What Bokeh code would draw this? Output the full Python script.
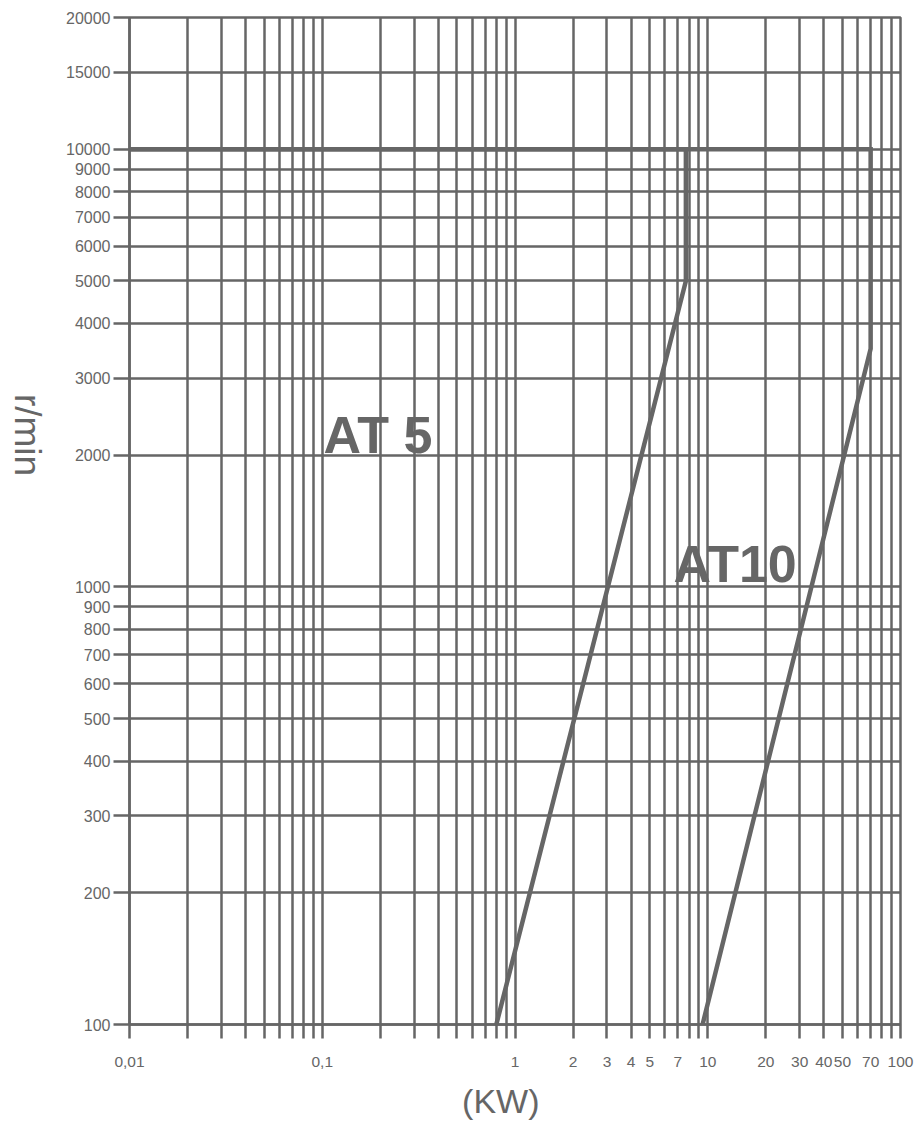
from bokeh.plotting import figure
from bokeh.models import Range1d, FixedTicker, Label
from bokeh.layouts import row
from bokeh.core.properties import value
from bokeh.embed import file_html
from bokeh.resources import INLINE
import math

# ---- data ----
x_ticks = [0.01, 0.02, 0.03, 0.04, 0.05, 0.06, 0.07, 0.08, 0.09,
           0.1, 0.2, 0.3, 0.4, 0.5, 0.6, 0.7, 0.8, 0.9,
           1, 2, 3, 4, 5, 6, 7, 8, 9,
           10, 20, 30, 40, 50, 60, 70, 80, 90, 100]
x_tick_labels = {0.01: "0,01", 0.1: "0,1", 1: "1", 2: "2", 3: "3", 4: "4", 5: "5", 7: "7",
                 10: "10", 20: "20", 30: "30", 40: "40", 50: "50", 70: "70", 100: "100"}
y_ticks = [100, 200, 300, 400, 500, 600, 700, 800, 900,
           1000, 2000, 3000, 4000, 5000, 6000, 7000, 8000, 9000,
           10000, 15000, 20000]

at5_kw = [0.8, 7.7, 7.7, 0.01]
at5_rpm = [100, 5000, 10000, 10000]
at10_kw = [9.4, 70, 70, 0.01]
at10_rpm = [100, 3500, 10000, 10000]

C = "#666666"
FONT = "Liberation Sans"
NB = "\u00a0"
LEFT_W = 60

# narrow strip carrying the vertical y-axis title
left = figure(width=LEFT_W, height=1124, x_range=Range1d(0, LEFT_W), y_range=Range1d(0, 1124),
              output_backend="svg", toolbar_location=None, min_border=0,
              x_axis_location=None, y_axis_location=None, title=None)
left.outline_line_color = None
left.grid.visible = False
left.background_fill_color = "white"
left.border_fill_color = "white"
left.text(x=[27], y=[658], text=["r/min"], angle=-math.pi / 2, text_align="center",
          text_baseline="alphabetic", text_font=value(FONT), text_font_size="37px", text_color=C)

p = figure(width=917 - LEFT_W, height=1124, x_axis_type="log", y_axis_type="log",
           x_range=Range1d(0.01, 100), y_range=Range1d(100, 20000),
           output_backend="svg", toolbar_location=None, title=None,
           min_border_left=129 - LEFT_W, min_border_right=17, min_border_top=17, min_border_bottom=100)

p.background_fill_color = "white"
p.border_fill_color = "white"
p.outline_line_color = C
p.outline_line_width = 2.5
p.outline_line_alpha = 1.0

p.xaxis.ticker = FixedTicker(ticks=x_ticks)
p.yaxis.ticker = FixedTicker(ticks=y_ticks)
p.xaxis.major_label_overrides = {t: x_tick_labels.get(t, "") for t in x_ticks}
p.yaxis.major_label_overrides = {t: str(t) for t in y_ticks}

for ax in (p.xaxis[0], p.yaxis[0]):
    ax.axis_line_color = C
    ax.axis_line_width = 2.5
    ax.major_tick_line_color = C
    ax.major_tick_line_width = 2.5
    ax.minor_tick_line_color = None
    ax.major_tick_in = 0
    ax.major_label_text_color = C
    ax.major_label_text_font = FONT
    ax.axis_label_text_color = C
    ax.axis_label_text_font = FONT
    ax.axis_label_text_font_style = "normal"

p.xaxis.major_tick_out = 14
p.xaxis.major_label_standoff = 18
p.xaxis.major_label_text_font_size = "15.5px"
p.xaxis.axis_label = "(KW)" + NB * 3
p.xaxis.axis_label_text_font_size = "34px"
p.xaxis.axis_label_standoff = 12

p.yaxis.major_tick_out = 16
p.yaxis.major_label_standoff = 3
p.yaxis.major_label_text_font_size = "16px"

for g in (p.xgrid[0], p.ygrid[0]):
    g.grid_line_color = C
    g.grid_line_width = 2.5
    g.grid_line_alpha = 1.0

p.line(at5_kw, at5_rpm, line_width=4.5, line_color=C, line_join="miter")
p.line(at10_kw, at10_rpm, line_width=4.5, line_color=C, line_join="miter")

p.add_layout(Label(x=0.1016, y=2229, text="AT 5", text_font=FONT, text_font_style="bold",
                   text_font_size="52px", text_color=C, text_baseline="alphabetic", text_align="left"))
p.add_layout(Label(x=6.64, y=1125, text="AT10", text_font=FONT, text_font_style="bold",
                   text_font_size="52px", text_color=C, text_baseline="alphabetic", text_align="left"))

layout = row(left, p)
open("out.html", "w").write(file_html(layout, INLINE))
